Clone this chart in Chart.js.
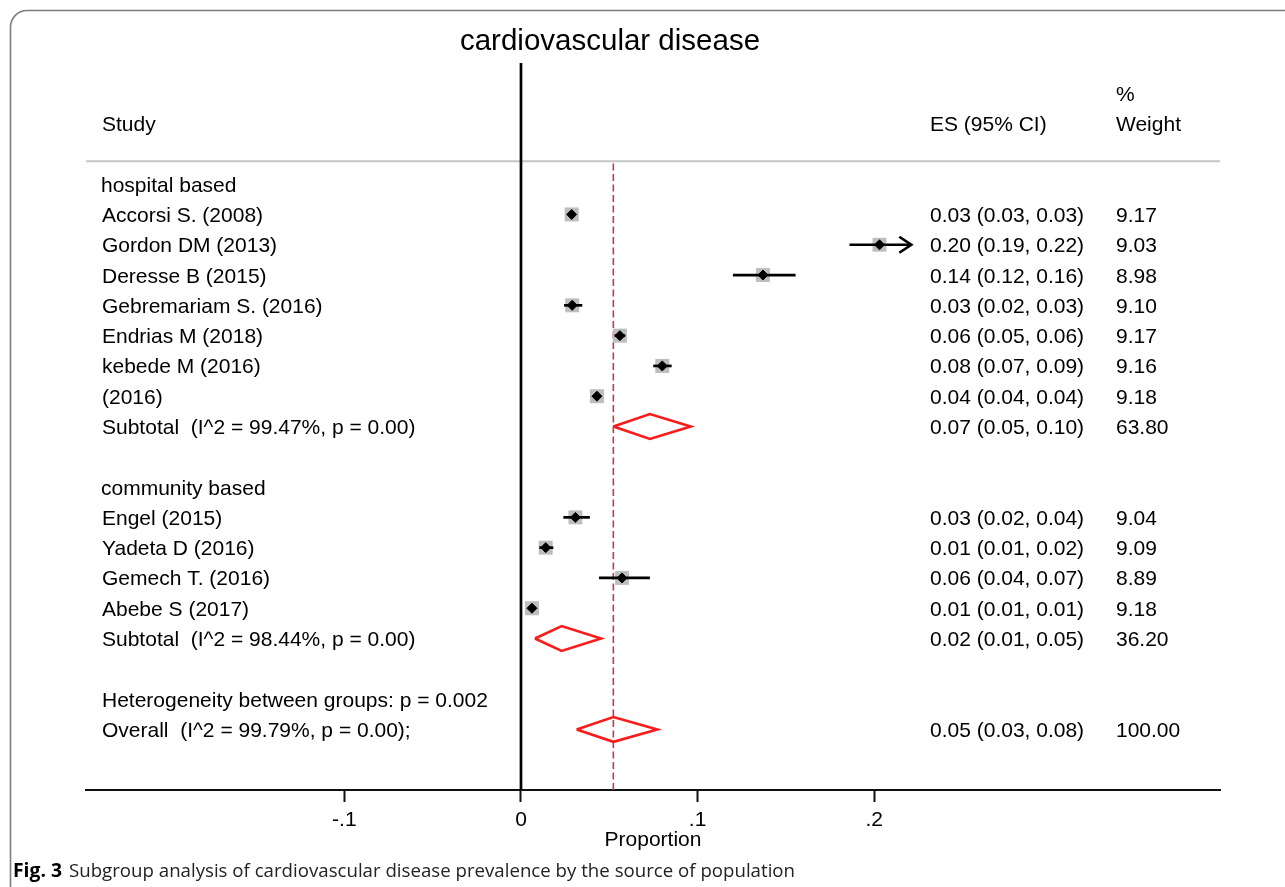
<!DOCTYPE html>
<html><head><meta charset="utf-8">
<script src="https://cdn.jsdelivr.net/npm/chart.js@4.4.1/dist/chart.umd.min.js"></script>
<style>html,body{margin:0;padding:0;background:#fff;overflow:hidden}canvas{display:block}</style>
</head><body>
<canvas id="c" width="1285" height="887"></canvas>
<script>
// ---------------- DATA ----------------
const chartTitle = 'cardiovascular disease';
const captionBold = 'Fig. 3';
const captionText = 'Subgroup analysis of cardiovascular disease prevalence by the source of population';
const axisTitle = 'Proportion';
const headerStudy = 'Study';
const headerES = 'ES (95% CI)';
const headerWeight1 = '%';
const headerWeight2 = 'Weight';

const xTicks = [-0.1, 0, 0.1, 0.2];
const xTickLabels = ['-.1', '0', '.1', '.2'];

const groupLabels = ['hospital based', 'community based'];

const hospitalStudies = ['Accorsi S. (2008)', 'Gordon DM (2013)', 'Deresse B (2015)', 'Gebremariam S. (2016)', 'Endrias M (2018)', 'kebede M (2016)', '(2016)'];
const hospitalES    = [0.0287, 0.203, 0.137, 0.029, 0.056, 0.080, 0.043];
const hospitalLower = [0.0268, 0.186, 0.120, 0.0244, 0.053, 0.0749, 0.041];
const hospitalUpper = [0.0306, 0.221, 0.1555, 0.0347, 0.059, 0.0853, 0.045];
const hospitalESText = ['0.03 (0.03, 0.03)', '0.20 (0.19, 0.22)', '0.14 (0.12, 0.16)', '0.03 (0.02, 0.03)', '0.06 (0.05, 0.06)', '0.08 (0.07, 0.09)', '0.04 (0.04, 0.04)'];
const hospitalWeight = [9.17, 9.03, 8.98, 9.10, 9.17, 9.16, 9.18];

const communityStudies = ['Engel (2015)', 'Yadeta D (2016)', 'Gemech T. (2016)', 'Abebe S (2017)'];
const communityES    = [0.0308, 0.014, 0.0572, 0.0062];
const communityLower = [0.024, 0.0104, 0.0442, 0.0048];
const communityUpper = [0.039, 0.0183, 0.073, 0.0077];
const communityESText = ['0.03 (0.02, 0.04)', '0.01 (0.01, 0.02)', '0.06 (0.04, 0.07)', '0.01 (0.01, 0.01)'];
const communityWeight = [9.04, 9.09, 8.89, 9.18];

const subtotalLabels = ['Subtotal  (I^2 = 99.47%, p = 0.00)', 'Subtotal  (I^2 = 98.44%, p = 0.00)'];
const subtotalES    = [0.073, 0.023];
const subtotalLower = [0.0523, 0.0079];
const subtotalUpper = [0.0961, 0.0453];
const subtotalESText = ['0.07 (0.05, 0.10)', '0.02 (0.01, 0.05)'];
const subtotalWeight = [63.80, 36.20];

const heterogeneityLabel = 'Heterogeneity between groups: p = 0.002';
const overallLabel = 'Overall  (I^2 = 99.79%, p = 0.00);';
const overallES = 0.0523;
const overallLower = 0.0315;
const overallUpper = 0.0772;
const overallESText = '0.05 (0.03, 0.08)';
const overallWeight = 100.00;

// studies whose CI is truncated by an arrow
const arrowStudies = ['Gordon DM (2013)'];

// ---------------- LAYOUT / STYLE ----------------
const X_MIN = -0.2463, X_MAX = 0.3958;
const Y_MIN = -4, Y_MAX = 20;
const HEADER_ROW_1 = -3, HEADER_ROW_2 = -2, HEADER_RULE = -0.76, DASH_TOP = -0.68;
const DIAMOND_HALF = 0.41;
const BOX_K = 3.27;
const FONT_FAMILY = '"Liberation Sans", Arial, Helvetica, sans-serif';
const FONT_SIZE = 21;
const COL_STUDY = 102, COL_ES = 930, COL_W = 1116;

// ---------------- ROWS ----------------
const groups = [
  {label: groupLabels[0], studies: hospitalStudies, es: hospitalES, lo: hospitalLower, hi: hospitalUpper, text: hospitalESText, w: hospitalWeight},
  {label: groupLabels[1], studies: communityStudies, es: communityES, lo: communityLower, hi: communityUpper, text: communityESText, w: communityWeight}
];
const rowItems = [];
let row = 0;
groups.forEach((g, gi) => {
  rowItems.push({row: row++, label: g.label, kind: 'group'});
  g.studies.forEach((s, i) => {
    rowItems.push({row: row++, label: s, kind: 'study', es: g.es[i], lo: g.lo[i], hi: g.hi[i], text: g.text[i], w: g.w[i]});
  });
  rowItems.push({row: row, label: subtotalLabels[gi], kind: 'pooled', es: subtotalES[gi], lo: subtotalLower[gi], hi: subtotalUpper[gi], text: subtotalESText[gi], w: subtotalWeight[gi]});
  row += 2;
});
rowItems.push({row: row++, label: heterogeneityLabel, kind: 'note'});
rowItems.push({row: row++, label: overallLabel, kind: 'pooled', es: overallES, lo: overallLower, hi: overallUpper, text: overallESText, w: overallWeight});

const studyRows = rowItems.filter(r => r.kind === 'study');
const pooledRows = rowItems.filter(r => r.kind === 'pooled');

const datasets = [
  {
    label: 'ES', data: studyRows.map(r => ({x: r.es, y: r.row})),
    pointStyle: 'rectRot', pointRadius: 5, pointHoverRadius: 5,
    backgroundColor: '#000', borderColor: '#000', borderWidth: 1, order: 0
  },
  ...studyRows.map(r => ({
    label: 'CI', data: [{x: r.lo, y: r.row}, {x: r.hi, y: r.row}], showLine: true,
    borderColor: '#000', borderWidth: 2.7, pointRadius: 0, pointHoverRadius: 0, order: 1
  })),
  {
    label: 'Weight', data: studyRows.map(r => ({x: r.es, y: r.row})),
    pointStyle: 'rect', pointRadius: c => BOX_K * Math.sqrt(studyRows[c.dataIndex].w),
    backgroundColor: '#bdbdbd', borderColor: '#bdbdbd', borderWidth: 0, order: 2
  },
  ...pooledRows.map(r => ({
    label: 'Pooled', showLine: true, tension: 0,
    data: [{x: r.lo, y: r.row}, {x: r.es, y: r.row - DIAMOND_HALF}, {x: r.hi, y: r.row}, {x: r.es, y: r.row + DIAMOND_HALF}, {x: r.lo, y: r.row}],
    borderColor: '#ff1a1a', borderWidth: 2.6, pointRadius: 0, pointHoverRadius: 0, order: 3, borderJoinStyle: 'miter'
  })),
  {
    label: 'Null', showLine: true, data: [{x: 0, y: Y_MIN}, {x: 0, y: Y_MAX}],
    borderColor: '#000', borderWidth: 2.7, pointRadius: 0, order: 4
  },
  {
    label: 'Overall', showLine: true, data: [{x: overallES, y: DASH_TOP}, {x: overallES, y: Y_MAX}],
    borderColor: '#a8454f', borderWidth: 1.6, borderDash: [7, 3.5], pointRadius: 0, order: 5
  },
  {
    label: 'Rule', showLine: true, data: [{x: X_MIN, y: HEADER_RULE}, {x: X_MAX, y: HEADER_RULE}],
    borderColor: '#c6c6c6', borderWidth: 2, pointRadius: 0, order: 6
  }
];

const textPlugin = {
  id: 'forestText',
  afterDatasetsDraw(chart) {
    const {ctx, scales: {x, y}} = chart;
    const base = r => y.getPixelForValue(r) + 7.5;
    ctx.save();
    ctx.fillStyle = '#000';
    ctx.textAlign = 'left';
    ctx.textBaseline = 'alphabetic';
    ctx.font = FONT_SIZE + 'px ' + FONT_FAMILY;
    ctx.fillText(headerWeight1, COL_W, base(HEADER_ROW_1));
    ctx.fillText(headerStudy, COL_STUDY, base(HEADER_ROW_2));
    ctx.fillText(headerES, COL_ES, base(HEADER_ROW_2));
    ctx.fillText(headerWeight2, COL_W, base(HEADER_ROW_2));
    rowItems.forEach(r => {
      ctx.fillText(r.label, r.kind === 'group' ? COL_STUDY - 1 : COL_STUDY, base(r.row));
      if (r.text) {
        ctx.fillText(r.text, COL_ES, base(r.row));
        ctx.fillText(r.w.toFixed(2), COL_W, base(r.row));
      }
    });
    // arrows for truncated CIs
    ctx.strokeStyle = '#000';
    ctx.lineWidth = 2.7;
    ctx.lineJoin = 'miter';
    studyRows.filter(r => arrowStudies.includes(r.label)).forEach(r => {
      const tx = x.getPixelForValue(r.hi), ty = y.getPixelForValue(r.row);
      ctx.beginPath();
      ctx.moveTo(tx - 12, ty - 8);
      ctx.lineTo(tx, ty);
      ctx.lineTo(tx - 12, ty + 8);
      ctx.stroke();
    });
    // title
    ctx.textAlign = 'center';
    ctx.font = '29.5px ' + FONT_FAMILY;
    ctx.fillText(chartTitle, 610, 50);
    // caption (condensed)
    ctx.textAlign = 'left';
    ctx.font = 'bold 19px "Open Sans", "Noto Sans", sans-serif';
    const bw = ctx.measureText(captionBold).width;
    ctx.save(); ctx.translate(13, 877); ctx.scale((62 - 13) / bw, 1); ctx.fillText(captionBold, 0, 0); ctx.restore();
    ctx.font = '19px "Open Sans", "Noto Sans", sans-serif';
    const cw = ctx.measureText(captionText).width;
    ctx.fillStyle = '#222';
    ctx.save(); ctx.translate(69, 877); ctx.scale((795 - 69) / cw, 1); ctx.fillText(captionText, 0, 0); ctx.restore();
    // frame
    ctx.strokeStyle = '#7d7d7d';
    ctx.lineWidth = 1.6;
    ctx.beginPath();
    ctx.moveTo(10.5, 900);
    ctx.lineTo(10.5, 27);
    ctx.arcTo(10.5, 10.5, 27, 10.5, 16.5);
    ctx.lineTo(1300, 10.5);
    ctx.stroke();
    ctx.restore();
  }
};

const axisFont = {family: FONT_FAMILY, size: FONT_SIZE};
new Chart(document.getElementById('c'), {
  type: 'scatter',
  data: {datasets},
  options: {
    responsive: false,
    animation: false,
    devicePixelRatio: 1,
    layout: {padding: {left: 86, right: 65, top: 63, bottom: 30}},
    plugins: {legend: {display: false}, tooltip: {enabled: false}, title: {display: false}},
    scales: {
      x: {
        type: 'linear', min: X_MIN, max: X_MAX,
        afterBuildTicks: s => { s.ticks = xTicks.map(v => ({value: v})); },
        afterFit: s => { s.height = 67; },
        ticks: {
          callback: v => xTickLabels[xTicks.indexOf(v)],
          font: axisFont, color: '#000', padding: 6, maxRotation: 0, autoSkip: false
        },
        grid: {drawOnChartArea: false, drawTicks: true, tickLength: 12, tickWidth: 2, tickColor: '#111'},
        border: {display: true, color: '#111', width: 2},
        title: {display: true, text: axisTitle, font: axisFont, color: '#000', padding: {top: 0, bottom: 4}}
      },
      y: {type: 'linear', display: false, min: Y_MIN, max: Y_MAX, reverse: true}
    }
  },
  plugins: [textPlugin]
});
</script>
</body></html>
